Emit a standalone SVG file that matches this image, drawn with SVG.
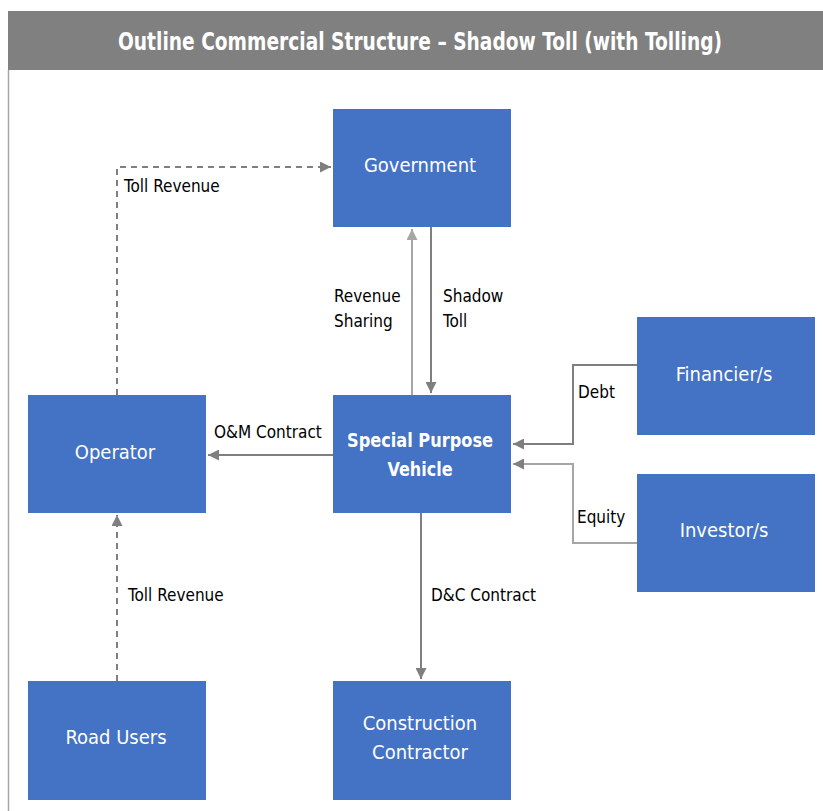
<svg xmlns="http://www.w3.org/2000/svg" width="823" height="811" viewBox="0 0 823 811">
<defs>
<style>
.node{fill:#4472C4}
.nt{fill:#fff;font-family:"Liberation Sans Narrow","DejaVu Sans Condensed","Roboto",sans-serif;font-size:20px;text-anchor:middle}
.lbl{fill:#000;font-family:"Liberation Sans Narrow","DejaVu Sans Condensed","Roboto",sans-serif;font-size:17px}
.c{fill:none;stroke:#7f7f7f;stroke-width:2}
.cl{fill:none;stroke:#a6a6a6;stroke-width:2}
.d{stroke-dasharray:6,5}
</style>
<marker id="ah" viewBox="0 0 10 10" refX="10" refY="5" markerWidth="5.5" markerHeight="5.5" orient="auto" markerUnits="strokeWidth"><path d="M0,0L10,5L0,10z" fill="#7f7f7f"/></marker>
<marker id="ahl" viewBox="0 0 10 10" refX="10" refY="5" markerWidth="5.5" markerHeight="5.5" orient="auto" markerUnits="strokeWidth"><path d="M0,0L10,5L0,10z" fill="#a6a6a6"/></marker>
</defs>
<rect x="0" y="0" width="823" height="811" fill="#fff"/>
<g id="header">
<rect x="8" y="11" width="815" height="59" fill="#808080"/>
<line x1="8.5" y1="70" x2="8.5" y2="811" stroke="#a6a6a6" stroke-width="1.5"/>
<text x="420" y="50" font-family="'Liberation Sans Narrow','DejaVu Sans Condensed',sans-serif" font-size="24" font-weight="bold" fill="#fff" text-anchor="middle" textLength="604" lengthAdjust="spacingAndGlyphs">Outline Commercial Structure – Shadow Toll (with Tolling)</text>
</g>
<g id="connectors">
<path class="c d" d="M117,395V167H331" marker-end="url(#ah)"/>
<path class="cl" d="M412,395V229" marker-end="url(#ahl)"/>
<path class="c" d="M431,227V393" marker-end="url(#ah)"/>
<path class="c" d="M333,455H208" marker-end="url(#ah)"/>
<path class="c" d="M637,365H573V444H513" marker-end="url(#ah)"/>
<path class="cl" d="M637,543H573V464H513" marker-end="url(#ah)"/>
<path class="c" d="M421,513V679" marker-end="url(#ah)"/>
<path class="c d" d="M117,681V515" marker-end="url(#ah)"/>
<text class="lbl" x="124" y="192">Toll Revenue</text>
<text class="lbl" x="334" y="302">Revenue</text>
<text class="lbl" x="334" y="327">Sharing</text>
<text class="lbl" x="443" y="302">Shadow</text>
<text class="lbl" x="443" y="327">Toll</text>
<text class="lbl" x="214" y="438">O&amp;M Contract</text>
<text class="lbl" x="578" y="398">Debt</text>
<text class="lbl" x="577" y="523">Equity</text>
<text class="lbl" x="431" y="601">D&amp;C Contract</text>
<text class="lbl" x="128" y="601">Toll Revenue</text>
</g>
<g id="government"><rect class="node" x="333" y="109" width="178" height="118"/><text class="nt" x="420" y="172">Government</text></g>
<g id="operator"><rect class="node" x="28" y="395" width="178" height="118"/><text class="nt" x="115" y="459">Operator</text></g>
<g id="spv"><rect class="node" x="333" y="395" width="178" height="118"/><text class="nt" x="420" y="447" font-weight="bold" textLength="146" lengthAdjust="spacingAndGlyphs">Special Purpose</text><text class="nt" x="420" y="476" font-weight="bold" textLength="65" lengthAdjust="spacingAndGlyphs">Vehicle</text></g>
<g id="financiers"><rect class="node" x="637" y="317" width="178" height="118"/><text class="nt" x="724" y="381">Financier/s</text></g>
<g id="investors"><rect class="node" x="637" y="474" width="178" height="118"/><text class="nt" x="724" y="537">Investor/s</text></g>
<g id="road-users"><rect class="node" x="28" y="681" width="178" height="119"/><text class="nt" x="116" y="744">Road Users</text></g>
<g id="contractor"><rect class="node" x="333" y="681" width="178" height="119"/><text class="nt" x="420" y="730">Construction</text><text class="nt" x="420" y="759">Contractor</text></g>
</svg>
